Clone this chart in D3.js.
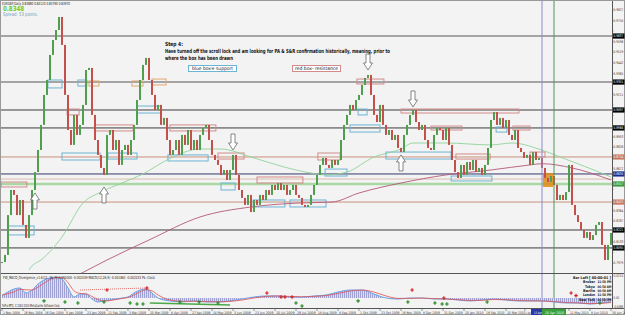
<!DOCTYPE html>
<html>
<head>
<meta charset="utf-8">
<script src="https://cdn.jsdelivr.net/npm/d3@7"></script>
<style>
  body { margin: 0; background: #fff; }
  svg { display: block; font-family: "DejaVu Sans", sans-serif; }
  .narrow { font-family: "Liberation Sans Narrow", "DejaVu Sans Condensed", sans-serif; }
</style>
</head>
<body>
<svg width="625" height="315"></svg>
<script>
// EURGBP daily closes, Nov 2008 - Jun 2010
var closes = [
  0.7987,0.8039,0.8330,0.8513,0.8477,0.8330,0.8440,0.8258,0.8163,0.8330,
  0.8513,0.8644,0.8805,0.8988,0.9207,0.9316,0.9499,0.9608,0.9681,0.9776,
  0.9572,0.9207,0.8951,0.8842,0.9061,0.8915,0.8988,0.9134,0.9389,0.9404,
  0.9061,0.8878,0.8769,0.8674,0.8623,0.8915,0.8951,0.8805,0.8878,0.8696,
  0.8805,0.8842,0.8769,0.8878,0.8988,0.9170,0.9316,0.9426,0.9477,0.9316,
  0.9207,0.9097,0.9134,0.8988,0.9039,0.8878,0.8769,0.8805,0.8878,0.8769,
  0.8915,0.8842,0.8951,0.8805,0.8878,0.8805,0.8915,0.8966,0.8988,0.8878,
  0.8769,0.8732,0.8696,0.8623,0.8659,0.8586,0.8659,0.8769,0.8623,0.8513,
  0.8455,0.8404,0.8477,0.8352,0.8440,0.8404,0.8477,0.8440,0.8513,0.8477,
  0.8550,0.8513,0.8564,0.8513,0.8550,0.8477,0.8513,0.8550,0.8477,0.8455,
  0.8404,0.8389,0.8404,0.8477,0.8550,0.8623,0.8696,0.8747,0.8696,0.8674,
  0.8732,0.8696,0.8732,0.8878,0.8988,0.9061,0.9134,0.9097,0.9170,0.9207,
  0.9280,0.9331,0.9353,0.9207,0.9061,0.9009,0.9134,0.8988,0.8915,0.8951,
  0.8878,0.8915,0.8820,0.8790,0.8915,0.8988,0.9061,0.9097,0.9009,0.8951,
  0.8988,0.8878,0.8820,0.8805,0.8915,0.8966,0.8951,0.8878,0.8966,0.8842,
  0.8732,0.8644,0.8601,0.8696,0.8623,0.8717,0.8659,0.8732,0.8644,0.8674,
  0.8623,0.8696,0.8820,0.9024,0.9082,0.8988,0.9039,0.8966,0.9024,0.8915,
  0.8878,0.8951,0.8820,0.8790,0.8747,0.8769,0.8696,0.8790,0.8732,0.8747,
  0.8674,0.8601,0.8571,0.8615,0.8550,0.8440,0.8477,0.8440,0.8498,0.8696,
  0.8404,0.8330,0.8279,0.8221,0.8163,0.8206,0.8148,0.8184,0.8258,0.8279,
  0.8112,0.8002,0.8112,0.8199
];

// moving averages (bar index, price)
var maFastIdx = [9,10,13,20,27,33,40,47,55,66,73,83,94,103,108,115,124,133,137,148,163,170,179,186,193,203];
var maFastVal = [0.7929,0.7958,0.8002,0.8170,0.8418,0.8498,0.8564,0.8630,0.8732,0.8812,0.8812,0.8754,0.8681,
                 0.8637,0.8623,0.8644,0.8754,0.8812,0.8856,0.8856,0.8842,0.8856,0.8812,0.8754,0.8696,0.8608];
var maSlowIdx = [22,26,35,49,66,83,99,110,119,133,148,163,176,180,190,203];
var maSlowVal = [0.7856,0.7900,0.8002,0.8148,0.8316,0.8389,0.8418,0.8425,0.8491,0.8564,0.8623,0.8659,0.8696,0.8705,0.8674,0.8586];

// horizontal levels
var levels     = [0.9637,0.9301,0.9097,0.8966,0.8754,0.8630,0.8593,0.8557,0.8425,0.8221,0.8090];
var levelKinds = ['grey','grey','dark','dark','brown','blue','tan','green','brown','dark','dark'];

// boxes: [fromBar, toBar, topPrice, bottomPrice, kind]  b=support r=resistance o=orange f=filled
var boxes = [
  [-0.3,8.3,0.8571,0.8535,'r'], [2,10.7,0.8250,0.8185,'b'], [15.3,20,0.9316,0.9258,'b'],
  [25.3,28.3,0.9316,0.9272,'b'], [29,32.3,0.9309,0.9272,'o'], [21.7,25.7,0.9104,0.9061,'r'],
  [20,32.7,0.8783,0.8732,'b'], [31,43.7,0.8988,0.8944,'r'], [35.3,45,0.8783,0.8739,'b'],
  [43.3,47,0.9309,0.9272,'o'], [50,54.7,0.9323,0.9280,'o'], [45,53,0.9126,0.9075,'b'],
  [56,71.3,0.8988,0.8944,'r'], [55.3,68.7,0.8769,0.8725,'b'], [72,80.7,0.8783,0.8739,'r'],
  [73,77.7,0.8564,0.8513,'b'], [85,100.3,0.8608,0.8564,'r'], [83.7,94.3,0.8440,0.8389,'b'],
  [96,108,0.8440,0.8389,'b'], [105.3,112.7,0.8783,0.8732,'r'], [107.7,115,0.8666,0.8615,'b'],
  [118.7,121.7,0.9104,0.9061,'b'], [116,126,0.8988,0.8936,'b'], [118.3,127.3,0.9323,0.9287,'r'],
  [133,172.3,0.9104,0.9075,'r'], [143,153.3,0.8980,0.8951,'r'], [128,149.7,0.8790,0.8739,'b'],
  [151.3,162.7,0.8776,0.8739,'r'], [149.7,163.3,0.8615,0.8579,'b'], [164.7,168.3,0.8973,0.8936,'b'],
  [170.3,176,0.8980,0.8951,'r'], [176,181,0.8790,0.8754,'r'], [180.3,183.7,0.8637,0.8535,'f']
];

// hollow arrows: [bar, tipPrice, direction]
var arrows = [[11,0.8491,'up'],[34,0.8535,'up'],[77,0.8805,'down'],[122,0.9389,'down'],[137,0.9119,'down'],[133,0.8769,'up']];

var priceTicks = [0.9827,0.9750,0.9673,0.9596,0.9519,0.9442,0.9365,0.9288,0.9211,0.9134,0.9057,0.8980,0.8903,
                  0.8826,0.8749,0.8672,0.8595,0.8518,0.8441,0.8364,0.8287,0.8210,0.8133,0.8056,0.7979];

var dateIdx  = [0,7,14,21,28,35,42,49,56,63,70,77,84,91,98,105,112,119,126,133,140,147,154,161,168,174.3,189,196,203];
var dateText = ['1 Nov 2008','26 Nov 2008','16 Dec 2008','5 Jan 2009','23 Jan 2009','11 Feb 2009','3 Mar 2009',
  '20 Mar 2009','8 Apr 2009','27 Apr 2009','14 May 2009','3 Jun 2009','23 Jun 2009','10 Jul 2009','29 Jul 2009',
  '18 Aug 2009','4 Sep 2009','1 Oct 2009','23 Oct 2009','16 Nov 2009','8 Dec 2009','31 Dec 2009','20 Jan 2010',
  '16 Feb 2010','10 Mar 2010','1 Apr','11 May 2010','8 Jun 2010','30 Jun 2010'];

// MACD panel
var macdIdx  = [0,4,6,8,10,12,14,16,18,20,22,24,26,28,30,32,34,36,38,40,42,44,46,48,50,52,54,56,60,64,68,72,76,
                80,84,88,92,96,100,104,108,112,116,120,124,128,132,136,140,144,148,152,156,160,164,168,172,176,180,
                184,188,192,196,200,203];
var macdHist = [0.0020,0.0088,0.0098,0.0049,0.0078,0.0137,0.0176,0.0196,0.0205,0.0186,0.0098,0.0010,0.0039,0.0039,
                -0.0010,-0.0039,-0.0029,-0.0020,-0.0010,0,0.0010,0.0049,0.0078,0.0088,0.0049,0,-0.0020,-0.0029,
                -0.0039,-0.0029,-0.0039,-0.0039,-0.0029,-0.0010,0.0010,0.0020,0.0020,0.0010,0.0010,0.0020,0.0029,
                0.0059,0.0078,0.0078,0.0039,0,-0.0010,0,0,-0.0010,-0.0010,-0.0020,-0.0029,-0.0020,-0.0010,-0.0020,
                -0.0029,-0.0029,-0.0029,-0.0039,-0.0049,-0.0049,-0.0059,-0.0049,-0.0039];
var macdSignal = [0.0030,0.0060,0.0085,0.0080,0.0078,0.0105,0.0145,0.0180,0.0200,0.0200,0.0150,0.0070,0.0045,0.0040,
                0.0015,-0.0015,-0.0030,-0.0025,-0.0015,-0.0005,0.0005,0.0030,0.0060,0.0080,0.0070,0.0030,0.0000,-0.0020,
                -0.0032,-0.0032,-0.0035,-0.0038,-0.0033,-0.0020,0.0000,0.0015,0.0020,0.0015,0.0012,0.0016,0.0024,
                0.0045,0.0068,0.0078,0.0058,0.0020,-0.0004,-0.0004,-0.0001,-0.0006,-0.0010,-0.0016,-0.0024,-0.0023,
                -0.0015,-0.0017,-0.0025,-0.0028,-0.0029,-0.0035,-0.0044,-0.0048,-0.0055,-0.0052,-0.0044];
var redMarks   = [[35,0.0078],[48.3,0.0098],[88.3,0.0049],[93,0.0010],[94.3,0.0010],[96.7,0.0010],[136.7,0.0078],[147.3,0],[189.7,0.0049]];
var greenMarks = [[14,-0.0029],[21,-0.0039],[25.3,-0.0049],[34,-0.0039],[42.7,-0.0049],[45,-0.0059],[47,-0.0059],
                  [59.3,-0.0039],[65.7,-0.0039],[72,-0.0049],[98,-0.0049],[100,-0.0078],[118.7,-0.0029],[135.3,-0.0039],
                  [144.3,-0.0049],[146.7,-0.0059],[148.3,-0.0059],[161.7,-0.0039],[199.3,-0.0049]];

var clockLabels = ['Broker','Tokyo','Berlin','London','New York'];
var clockTimes  = ['11:58 PM','06:58 AM','00:58 AM','11:58 PM','06:58 PM'];

var svg = d3.select('svg');
var W = 625, H = 315, plotR = 612, mainB = 273, macdT = 274, macdB = 308;

var xs = d3.scaleLinear().domain([0, 203]).range([2, 611]);
var ys = d3.scaleLinear().domain([0.7907, 0.99]).range([273, 0]);
var ms = d3.scaleLinear().domain([-0.0088, 0.0215]).range([307, 276]);

svg.append('rect').attr('width', W).attr('height', H).attr('fill', '#f3f3f3');

var defs = svg.append('defs');
defs.append('clipPath').attr('id', 'cMain').append('rect').attr('x', 0).attr('y', 0).attr('width', plotR).attr('height', mainB);
defs.append('clipPath').attr('id', 'cMacd').append('rect').attr('x', 0).attr('y', macdT).attr('width', plotR).attr('height', macdB - macdT);
var pat = defs.append('pattern').attr('id', 'stripes').attr('patternUnits', 'userSpaceOnUse').attr('width', 2).attr('height', 10);
pat.append('rect').attr('width', 2).attr('height', 10).attr('fill', '#dcdcf0');
pat.append('rect').attr('width', 1).attr('height', 10).attr('fill', '#a0a2d4');

var main = svg.append('g').attr('clip-path', 'url(#cMain)');

// level lines
var levelStyle = {
  grey:  { c: '#8a8a8a', w: 1.6, bg: '#000' },
  dark:  { c: '#3c3c3c', w: 1,   bg: '#000' },
  brown: { c: '#c8917a', w: 1,   bg: '#c9785a' },
  blue:  { c: '#34386a', w: 1,   bg: '#1e2c8c' },
  tan:   { c: '#d9bcae', w: 1,   bg: null },
  green: { c: '#a9d8a2', w: 2.5, bg: '#3a9a3a' }
};
main.selectAll('line.lvl').data(levels).enter().append('line')
  .attr('x1', 0).attr('x2', plotR)
  .attr('y1', function(d) { return ys(d); }).attr('y2', function(d) { return ys(d); })
  .attr('stroke', function(d, i) { return levelStyle[levelKinds[i]].c; })
  .attr('stroke-width', function(d, i) { return levelStyle[levelKinds[i]].w; });

// boxes
var boxStroke = { b: '#6cb4d4', r: '#d48a8a', o: '#e0a870' };
main.selectAll('rect.box').data(boxes).enter().append('rect')
  .attr('x', function(d) { return xs(d[0]); })
  .attr('y', function(d) { return ys(d[2]); })
  .attr('width', function(d) { return xs(d[1]) - xs(d[0]); })
  .attr('height', function(d) { return ys(d[3]) - ys(d[2]); })
  .attr('fill', function(d) { return d[4] == 'f' ? '#e08a18' : 'none'; })
  .attr('fill-opacity', 0.85)
  .attr('stroke', function(d) { return d[4] == 'f' ? 'none' : boxStroke[d[4]]; })
  .attr('stroke-width', 1);

// moving averages
var maLine = d3.line().x(function(d) { return xs(d[0]); }).y(function(d) { return ys(d[1]); }).curve(d3.curveMonotoneX);
main.append('path').datum(d3.zip(maFastIdx, maFastVal)).attr('d', maLine)
  .attr('fill', 'none').attr('stroke', '#8fd29a').attr('stroke-width', 0.9);
main.append('path').datum(d3.zip(maSlowIdx, maSlowVal)).attr('d', maLine)
  .attr('fill', 'none').attr('stroke', '#b3587a').attr('stroke-width', 0.9);

// candles
var candles = closes.map(function(c, i) { return { i: i, o: i > 0 ? closes[i - 1] : c, c: c }; });
main.selectAll('rect.candle').data(candles).enter().append('rect')
  .attr('x', function(d) { return xs(d.i) - 1; })
  .attr('width', 2)
  .attr('y', function(d) { return ys(Math.max(d.o, d.c)); })
  .attr('height', function(d) { return Math.max(1, Math.abs(ys(d.o) - ys(d.c))); })
  .attr('fill', function(d) { return d.c >= d.o ? '#4f9f4f' : '#c4504c'; });

// hollow arrows
main.selectAll('path.arrow').data(arrows).enter().append('path')
  .attr('transform', function(d) { return 'translate(' + xs(d[0]) + ',' + ys(d[1]) + ')' + (d[2] == 'down' ? ' scale(1,-1)' : ''); })
  .attr('d', 'M0,0 L4.5,7 L2,7 L2,16 L-2,16 L-2,7 L-4.5,7 Z')
  .attr('fill', '#fff').attr('stroke', '#6a6a6a').attr('stroke-width', 0.8);

// vertical cursor lines
svg.append('line').attr('x1', xs(180)).attr('x2', xs(180)).attr('y1', 0).attr('y2', macdB)
  .attr('stroke', '#8a8ad0').attr('stroke-width', 1);
svg.append('line').attr('x1', xs(184)).attr('x2', xs(184)).attr('y1', 0).attr('y2', macdB)
  .attr('stroke', '#4a9a5a').attr('stroke-width', 1);

// MACD panel
var macd = svg.append('g').attr('clip-path', 'url(#cMacd)');
var histData = d3.zip(macdIdx, macdHist);
macd.append('path').datum(histData)
  .attr('d', d3.area().x(function(d) { return xs(d[0]); }).y0(ms(0)).y1(function(d) { return ms(d[1]); }).curve(d3.curveMonotoneX))
  .attr('fill', 'url(#stripes)');
var mLine = d3.line().x(function(d) { return xs(d[0]); }).y(function(d) { return ms(d[1]); }).curve(d3.curveMonotoneX);
macd.append('path').datum(histData).attr('d', mLine).attr('fill', 'none').attr('stroke', '#6aa6e6').attr('stroke-width', 1);
macd.append('path').datum(d3.zip(macdIdx, macdSignal)).attr('d', mLine).attr('fill', 'none').attr('stroke', '#e25050').attr('stroke-width', 0.8);
macd.append('line').attr('x1', xs(26)).attr('y1', ms(0.0078)).attr('x2', xs(48.3)).attr('y2', ms(0.0098))
  .attr('stroke', '#e05050').attr('stroke-width', 0.8).attr('stroke-dasharray', '1,1');
macd.append('line').attr('x1', xs(49.3)).attr('y1', ms(-0.0049)).attr('x2', xs(76)).attr('y2', ms(-0.0068))
  .attr('stroke', '#4aa84a').attr('stroke-width', 1.5);
macd.selectAll('path.rm').data(redMarks).enter().append('path')
  .attr('transform', function(d) { return 'translate(' + xs(d[0]) + ',' + ms(d[1]) + ')'; })
  .attr('d', d3.symbol(d3.symbolCross, 7)).attr('fill', '#d42020');
macd.selectAll('path.gm').data(greenMarks).enter().append('path')
  .attr('transform', function(d) { return 'translate(' + xs(d[0]) + ',' + ms(d[1]) + ')'; })
  .attr('d', d3.symbol(d3.symbolCross, 7)).attr('fill', '#1e8a1e');

// frame lines
svg.append('line').attr('x1', 0).attr('x2', W).attr('y1', mainB + 0.5).attr('y2', mainB + 0.5).attr('stroke', '#555');
svg.append('line').attr('x1', 0).attr('x2', W).attr('y1', macdB + 0.5).attr('y2', macdB + 0.5).attr('stroke', '#555');
svg.append('line').attr('x1', plotR + 0.5).attr('x2', plotR + 0.5).attr('y1', 0).attr('y2', macdB).attr('stroke', '#555');
svg.append('rect').attr('x', 0.5).attr('y', 0.5).attr('width', W - 1).attr('height', H - 1).attr('fill', 'none').attr('stroke', '#999');

// right price axis (the picture's edge shows only four decimals); plain ticks hidden under level labels
var labelled = levels.filter(function(d, i) { return levelStyle[levelKinds[i]].bg; });
var freeTicks = priceTicks.filter(function(t) {
  return labelled.every(function(l) { return Math.abs(ys(t) - ys(l)) > 5.5; });
});
var axR = svg.append('g').attr('class', 'narrow').attr('font-size', 3.6).attr('fill', '#333');
axR.selectAll('text.pt').data(freeTicks).enter().append('text')
  .attr('x', 613.6).attr('y', function(d) { return ys(d) + 1.3; })
  .attr('textLength', 9.6).attr('lengthAdjust', 'spacingAndGlyphs')
  .text(function(d) { return d.toFixed(4); });
axR.selectAll('line.pt').data(priceTicks).enter().append('line')
  .attr('x1', plotR).attr('x2', plotR + 1.5).attr('y1', function(d) { return ys(d); }).attr('y2', function(d) { return ys(d); })
  .attr('stroke', '#555').attr('stroke-width', 0.6);
var lvlLab = axR.selectAll('g.lv').data(labelled).enter().append('g');
lvlLab.append('rect').attr('x', plotR + 1).attr('y', function(d) { return ys(d) - 2.6; })
  .attr('width', 11.5).attr('height', 5.2)
  .attr('fill', function(d) { return levelStyle[levelKinds[levels.indexOf(d)]].bg; });
lvlLab.append('text').attr('x', 613.6).attr('y', function(d) { return ys(d) + 1.3; })
  .attr('textLength', 9.6).attr('lengthAdjust', 'spacingAndGlyphs')
  .attr('fill', '#fff').text(function(d) { return d.toFixed(4); });
var macdLabels = [0.0215, 0, -0.0088];
axR.selectAll('text.ml').data(macdLabels).enter().append('text')
  .attr('x', 613.6).attr('y', function(d) { return ms(d) + 1.3; })
  .attr('textLength', function(d) { return d === 0 ? 5.5 : 9.6; }).attr('lengthAdjust', 'spacingAndGlyphs')
  .text(function(d) { return d === 0 ? '0.00' : d.toFixed(4); });

// date axis
var axB = svg.append('g').attr('class', 'narrow').attr('fill', '#333');
axB.selectAll('text').data(dateIdx).enter().append('text')
  .attr('x', function(d) { return xs(d) + 1; }).attr('y', 313.5)
  .attr('font-size', function(d, i) { return dateText[i].length < 6 ? 3 : 3.4; })
  .attr('textLength', function(d, i) { return dateText[i].length < 6 ? 5 : Math.min(18.5, dateText[i].length * 1.68); })
  .attr('lengthAdjust', 'spacingAndGlyphs')
  .text(function(d, i) { return dateText[i]; });
axB.selectAll('line').data(dateIdx).enter().append('line')
  .attr('x1', function(d) { return xs(d); }).attr('x2', function(d) { return xs(d); })
  .attr('y1', macdB).attr('y2', macdB + 3).attr('stroke', '#555').attr('stroke-width', 0.6);
svg.append('rect').attr('x', xs(180) - 11).attr('y', 309).attr('width', 12).attr('height', 6).attr('fill', '#2a38a8');
svg.append('text').attr('class', 'narrow').attr('x', xs(180) - 8).attr('y', 313.5).attr('font-size', 3.1).attr('fill', '#fff')
  .attr('textLength', 8).attr('lengthAdjust', 'spacingAndGlyphs').text('13 Apr');
svg.append('rect').attr('x', xs(184) - 12).attr('y', 309).attr('width', 24).attr('height', 6).attr('fill', '#38a038');
svg.append('text').attr('class', 'narrow').attr('x', xs(184) - 9).attr('y', 313.5).attr('font-size', 3.4).attr('fill', '#fff')
  .attr('textLength', 19).attr('lengthAdjust', 'spacingAndGlyphs').text('20 Apr 2010');

// header texts
svg.append('text').attr('class', 'narrow').attr('x', 2).attr('y', 4.5).attr('font-size', 4.2).attr('fill', '#222')
  .attr('textLength', 68).attr('lengthAdjust', 'spacingAndGlyphs').text('EURGBP,Daily  0.83880 0.84120 0.83790 0.83970');
svg.append('text').attr('x', 3).attr('y', 10.5).attr('font-size', 7).attr('font-weight', 'bold').attr('fill', '#66cc33')
  .attr('textLength', 21).attr('lengthAdjust', 'spacingAndGlyphs').text('0.8348');
svg.append('text').attr('class', 'narrow').attr('x', 3).attr('y', 16).attr('font-size', 5).attr('fill', '#6a98b6')
  .attr('textLength', 35).attr('lengthAdjust', 'spacingAndGlyphs').text('Spread: 53 points.');

// annotation text
var note = svg.append('g').attr('class', 'narrow').attr('font-size', 5.6).attr('font-weight', 'bold').attr('fill', '#111');
note.append('text').attr('x', 165).attr('y', 46).attr('textLength', 18).attr('lengthAdjust', 'spacingAndGlyphs').text('Step 4:');
note.append('text').attr('x', 165).attr('y', 53).attr('textLength', 225).attr('lengthAdjust', 'spacingAndGlyphs')
  .text('Have turned off the scroll lock and am looking for PA & S&R confirmation historically, meaning, prior to');
note.append('text').attr('x', 165).attr('y', 59.5).attr('textLength', 68).attr('lengthAdjust', 'spacingAndGlyphs')
  .text('where the box has been drawn');

svg.append('rect').attr('x', 188.5).attr('y', 65.5).attr('width', 48).attr('height', 6).attr('fill', '#fff').attr('stroke', '#6cb4d4');
svg.append('text').attr('class', 'narrow').attr('x', 192).attr('y', 70.2).attr('font-size', 4.8).attr('fill', '#222')
  .attr('textLength', 41).attr('lengthAdjust', 'spacingAndGlyphs').text('blue box= support');
svg.append('rect').attr('x', 292.5).attr('y', 65.5).attr('width', 48).attr('height', 6).attr('fill', '#fff').attr('stroke', '#d48a8a');
svg.append('text').attr('class', 'narrow').attr('x', 295).attr('y', 70.2).attr('font-size', 4.8).attr('fill', '#222')
  .attr('textLength', 43).attr('lengthAdjust', 'spacingAndGlyphs').text('red box- resistance');

// MACD label and copyright
svg.append('text').attr('class', 'narrow').attr('x', 3).attr('y', 278.5).attr('font-size', 4).attr('fill', '#222')
  .attr('textLength', 152).attr('lengthAdjust', 'spacingAndGlyphs')
  .text('FW_MACD_Divergence_v1.6(12, 26, 9) 0.000000 -0.002039 MACD(12,26,9) -0.001861 -0.002233 Pk: Clock');
svg.append('text').attr('class', 'narrow').attr('x', 2).attr('y', 306.5).attr('font-size', 4).attr('fill', '#222')
  .attr('textLength', 58).attr('lengthAdjust', 'spacingAndGlyphs').text('FxPro MT4, \u00a9 2001-2010 MetaQuotes Software Corp.');

// clock box
var clock = svg.append('g').attr('class', 'narrow').attr('font-weight', 'bold').attr('fill', '#222');
clock.append('text').attr('x', 573).attr('y', 279).attr('font-size', 3.8).attr('textLength', 38).attr('lengthAdjust', 'spacingAndGlyphs')
  .text('Bar Left [ 00:00:01 ]');
clock.selectAll('text.cl').data(clockLabels).enter().append('text')
  .attr('x', 595).attr('y', function(d, i) { return 283.3 + i * 4.3; }).attr('text-anchor', 'end').attr('font-size', 3.8)
  .attr('textLength', function(d) { return d.length * 2; }).attr('lengthAdjust', 'spacingAndGlyphs')
  .text(function(d) { return d; });
clock.selectAll('text.ct').data(clockTimes).enter().append('text')
  .attr('x', 611.5).attr('y', function(d, i) { return 283.3 + i * 4.3; }).attr('text-anchor', 'end').attr('font-size', 3.3)
  .attr('textLength', 14).attr('lengthAdjust', 'spacingAndGlyphs')
  .text(function(d) { return d; });
svg.append('path').attr('transform', 'translate(576,295.6)').attr('d', d3.symbol(d3.symbolCross, 7)).attr('fill', '#d42020');
</script>
</body>
</html>
